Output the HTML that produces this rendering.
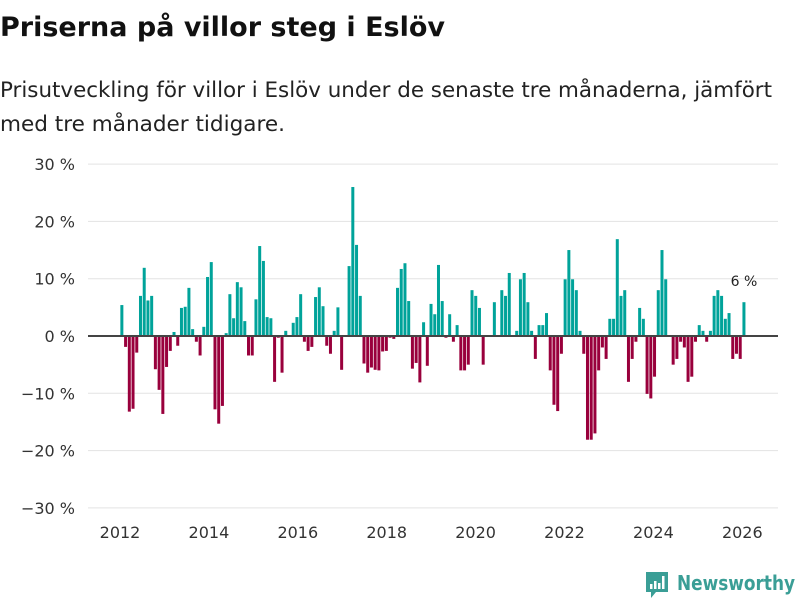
<!DOCTYPE html>
<html><head><meta charset="utf-8"><style>
body{margin:0;background:#fff;width:800px;height:600px;overflow:hidden;font-family:"Liberation Sans","DejaVu Sans",sans-serif;}
svg{display:block}
</style></head><body>
<svg id="chart" width="800" height="600">
<text x="0" y="36" font-size="27" font-weight="bold" fill="#111" font-family="DejaVu Sans, sans-serif" textLength="445" lengthAdjust="spacingAndGlyphs">Priserna på villor steg i Eslöv</text>
<text x="0" y="97" font-size="21" fill="#222" font-family="DejaVu Sans, sans-serif" textLength="772" lengthAdjust="spacingAndGlyphs">Prisutveckling för villor i Eslöv under de senaste tre månaderna, jämfört</text>
<text x="0" y="131" font-size="21" fill="#222" font-family="DejaVu Sans, sans-serif" textLength="285" lengthAdjust="spacingAndGlyphs">med tre månader tidigare.</text>
<g id="grid"></g><g id="bars"></g><g id="xaxis"></g>
<g>
<path d="M646 572 h22 v20 h-12 l-5 6 v-6 h-5 z" fill="#3a9e96"/>
<rect x="650" y="584" width="2.5" height="5" fill="#fff"/><rect x="654" y="581" width="2.5" height="8" fill="#fff"/><rect x="658" y="583" width="2.5" height="6" fill="#fff"/><rect x="662" y="576" width="2.5" height="13" fill="#fff"/>
<text x="677" y="590" font-size="20" font-weight="bold" fill="#3a9e96" font-family="DejaVu Sans, sans-serif" textLength="118" lengthAdjust="spacingAndGlyphs">Newsworthy</text>
</g>
</svg>
<script>
const yTicks=[30,20,10,0,-10,-20,-30];
const yTickLabels=["30 %","20 %","10 %","0 %","−10 %","−20 %","−30 %"];
const xTicks=[2012,2014,2016,2018,2020,2022,2024,2026];
const startYear=2012;
const values=[5.4,-1.9,-13.2,-12.7,-2.9,7,11.9,6.2,7,-5.8,-9.4,-13.6,
-5.4,-2.6,0.7,-1.7,4.9,5.1,8.4,1.2,-1,-3.4,1.6,10.3,
12.9,-12.8,-15.3,-12.2,0.5,7.3,3.1,9.4,8.5,2.6,-3.4,-3.4,
6.4,15.7,13.1,3.3,3.1,-8,-0.3,-6.4,0.9,null,2.3,3.3,
7.3,-1,-2.6,-1.9,6.8,8.5,5.2,-1.7,-3.1,0.9,5,-5.9,
null,12.2,26,15.9,7,-4.8,-6.4,-5.5,-5.9,-6,-2.7,-2.6,
-0.3,-0.5,8.4,11.7,12.7,6.1,-5.7,-4.7,-8.1,2.4,-5.2,5.6,
3.8,12.4,6.1,-0.3,3.8,-1,1.9,-6,-6,-5,8,7,
4.9,-5,null,null,5.9,null,8,7,11,null,0.9,9.9,
11,5.9,0.9,-4,1.9,1.9,4,-6,-12,-13.1,-3.1,9.9,
15,9.9,8,0.9,-3.1,-18.1,-18.1,-17,-6,-2,-4,3,
3,16.9,7,8,-8,-4,-1,4.9,3,-10.1,-10.9,-7.1,
8,15,9.9,null,-5,-4,-1,-2,-8,-7.1,-1,1.9,
0.9,-1,0.9,7,8,7,3,4,-4,-3.1,-4,5.9];
const lastLabel="6 %";
const NS="http://www.w3.org/2000/svg";
const y=v=>336-v*5.73;
const x=t=>120+(t-startYear)*44.7;
const xt=t=>120+(t-startYear)*44.45;
const grid=document.getElementById('grid');
yTicks.forEach((t,i)=>{
 if(t!==0){const l=document.createElementNS(NS,'line');
 l.setAttribute('x1',88);l.setAttribute('x2',778);l.setAttribute('y1',y(t));l.setAttribute('y2',y(t));
 l.setAttribute('stroke','#e3e3e3');l.setAttribute('stroke-width','1');
 
 
 grid.appendChild(l);}
 const tx=document.createElementNS(NS,'text');
 tx.setAttribute('x',75);tx.setAttribute('y',y(t)+6);tx.setAttribute('text-anchor','end');
 tx.setAttribute('font-size','16');tx.setAttribute('fill','#333');tx.setAttribute('font-family','DejaVu Sans, sans-serif');
 tx.textContent=yTickLabels[i];
 
 
 grid.appendChild(tx);
});
const bars=document.getElementById('bars');
let lastIdx=-1;
values.forEach((v,i)=>{
 if(v===null)return;lastIdx=i;
 const cx=x(startYear+(i+0.5)/12);
 const r=document.createElementNS(NS,'rect');
 r.setAttribute('x',cx-1.5);r.setAttribute('width',3);
 r.setAttribute('y',Math.min(y(v),y(0)));r.setAttribute('height',Math.abs(y(v)-y(0)));
 r.setAttribute('fill',v>=0?'#00a39a':'#99003c');
 
 
 bars.appendChild(r);
});
const z=document.createElementNS(NS,'line');
z.setAttribute('x1',88);z.setAttribute('x2',778);z.setAttribute('y1',336);z.setAttribute('y2',336);
z.setAttribute('stroke','#444');z.setAttribute('stroke-width','2');


bars.appendChild(z);
const lt=document.createElementNS(NS,'text');
lt.setAttribute('x',x(startYear+(lastIdx+0.5)/12));lt.setAttribute('y',y(values[lastIdx])-16);
lt.setAttribute('text-anchor','middle');lt.setAttribute('font-size','14');lt.setAttribute('fill','#222');lt.setAttribute('font-family','DejaVu Sans, sans-serif');
lt.textContent=lastLabel;


bars.appendChild(lt);
const xa=document.getElementById('xaxis');
xTicks.forEach(t=>{
 const tx=document.createElementNS(NS,'text');
 tx.setAttribute('x',xt(t));tx.setAttribute('y',538);tx.setAttribute('text-anchor','middle');
 tx.setAttribute('font-size','16');tx.setAttribute('fill','#333');tx.setAttribute('font-family','DejaVu Sans, sans-serif');
 tx.textContent=t;
 
 
 xa.appendChild(tx);
});
</script>
</body></html>
